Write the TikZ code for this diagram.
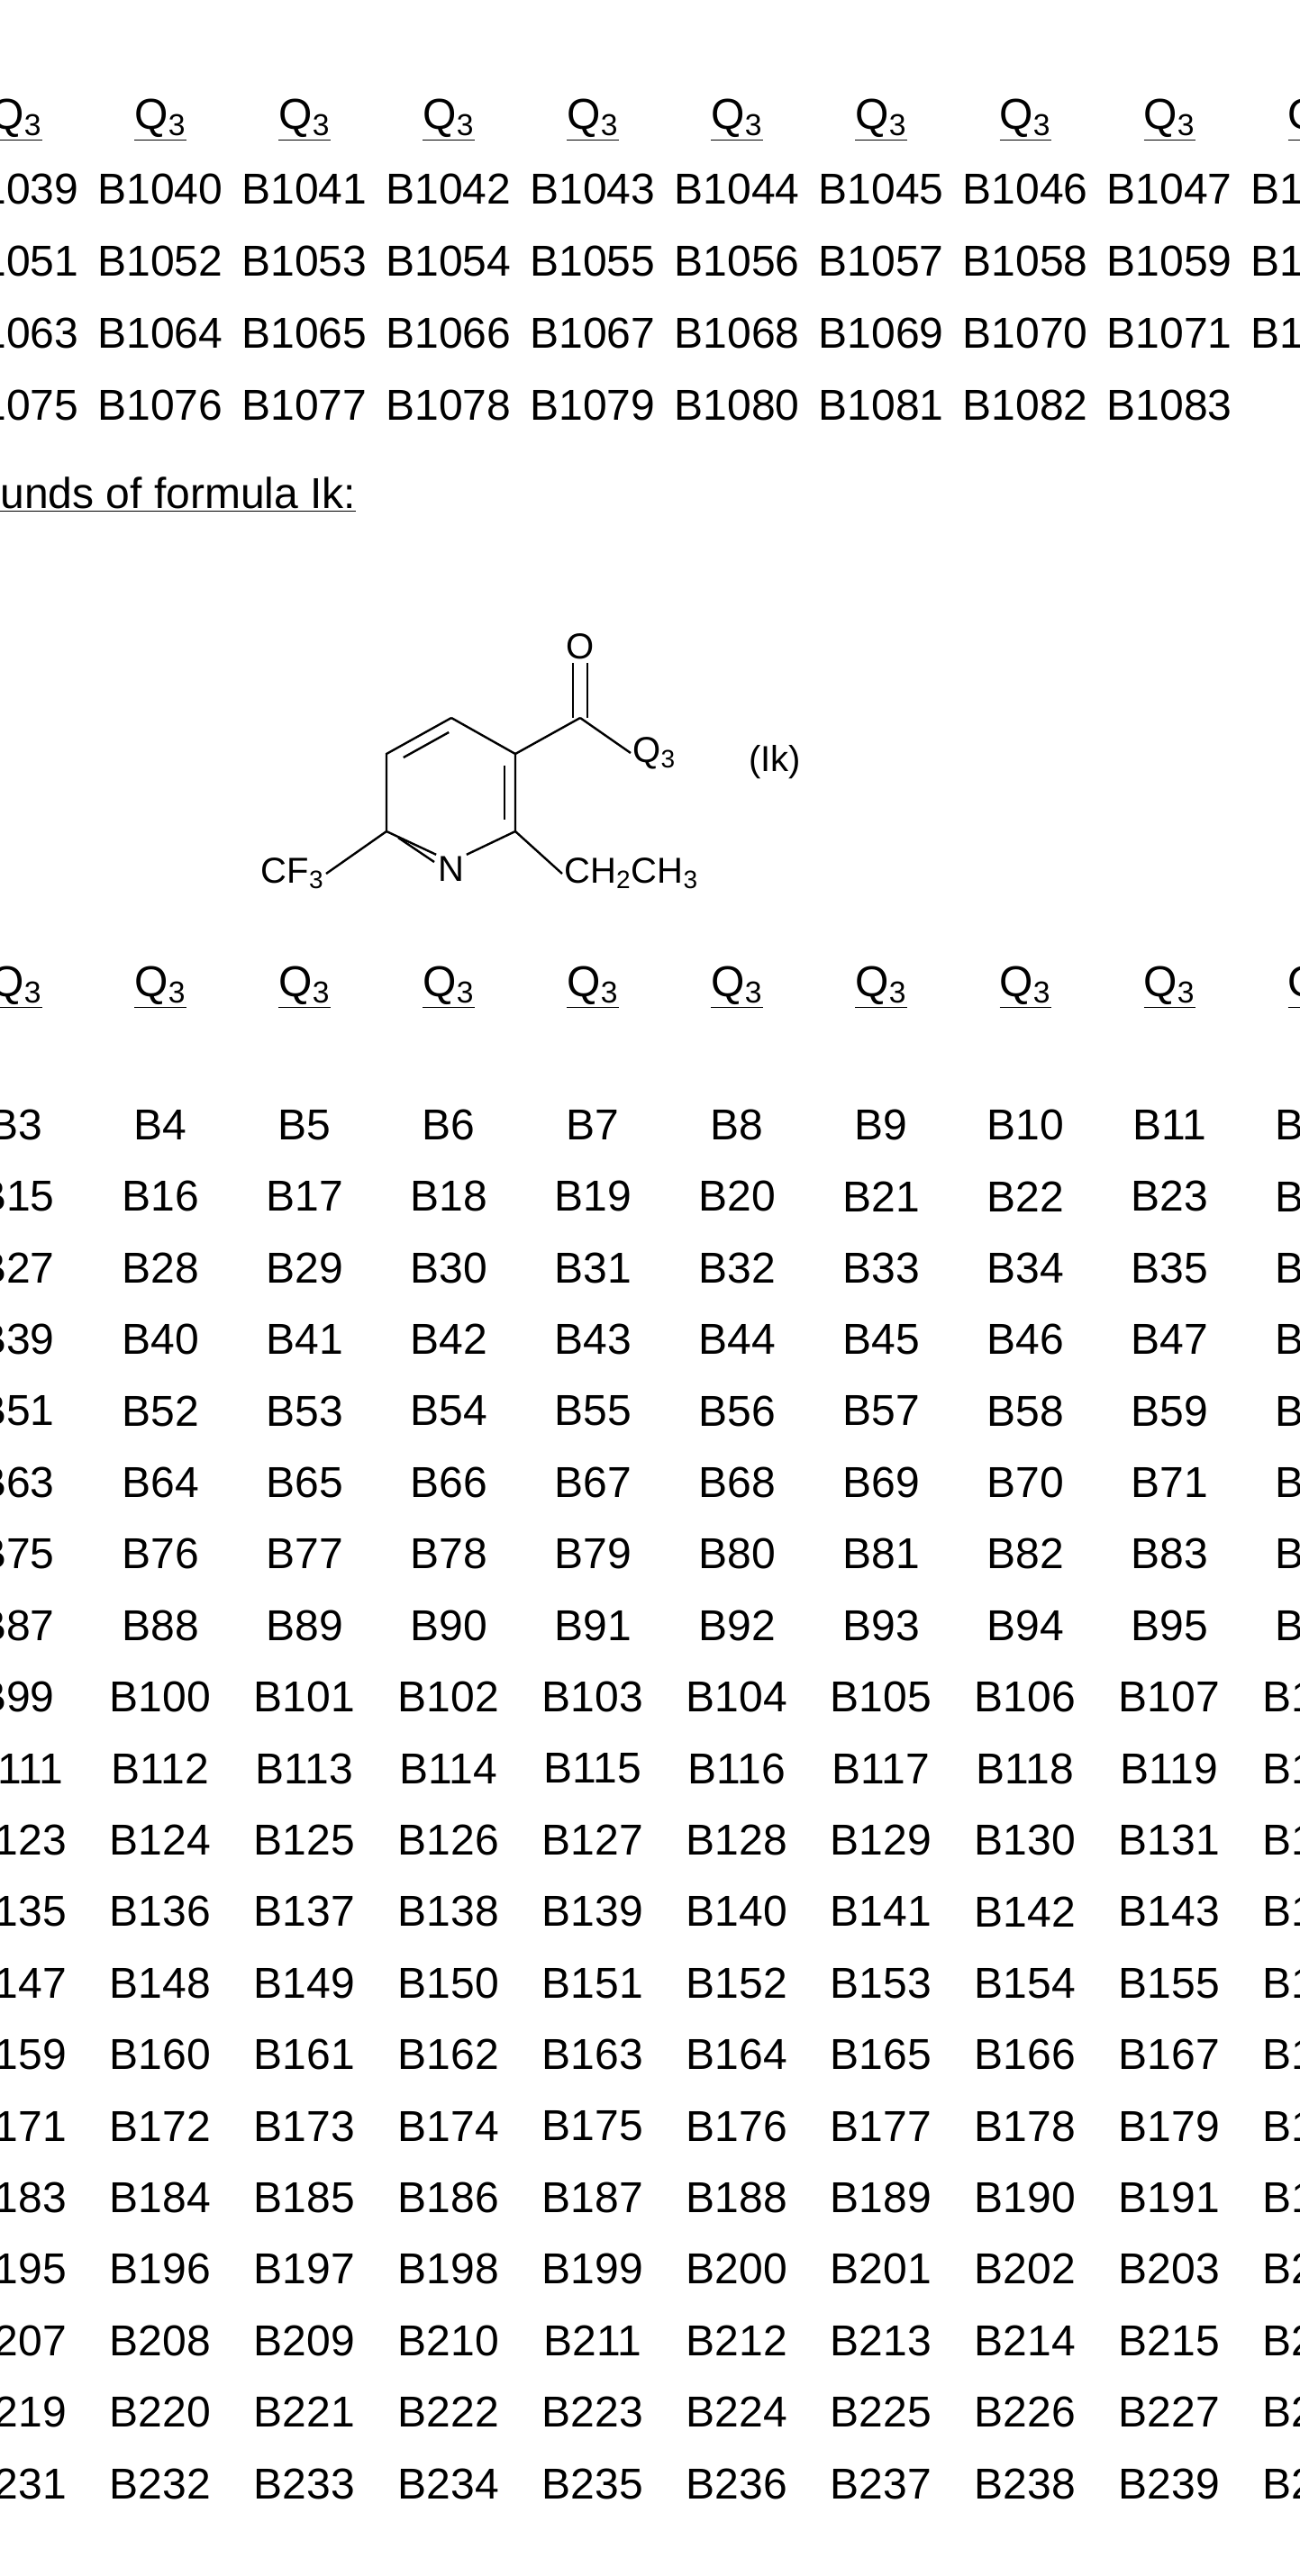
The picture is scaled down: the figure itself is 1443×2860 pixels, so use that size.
\documentclass[tikz,border=0pt]{standalone}
\usepackage{fontspec}
\setmainfont{Liberation Sans}
\usetikzlibrary{calc}
\begin{document}
\begin{tikzpicture}[x=0.5pt,y=-0.5pt,
  cell/.style={inner sep=0pt,anchor=center,font=\fontsize{24}{28}\selectfont},
  hdr/.style={inner sep=0pt,anchor=center,font=\fontsize{24}{28}\selectfont},
  atom/.style={inner sep=1pt,font=\fontsize{20}{23}\selectfont},
  bond/.style={line width=1.2pt}]
\useasboundingbox (0,0) rectangle (1443,2860);
\clip (0,0) rectangle (1443,2860);
\fill[white] (0,0) rectangle (1443,2860);
% top block
\foreach \i in {0,...,9}{
  \node[hdr] (ha\i) at (18+160*\i,133) {\underline{Q\textsubscript{3}}};
  \node[hdr] (hb\i) at (18+160*\i,1096) {\underline{Q\textsubscript{3}}};
}
\foreach \r in {0,...,3}{
  \foreach \i in {0,...,9}{
    \pgfmathtruncatemacro{\v}{1039+12*\r+\i}
    \ifnum\v<1084
      \node[cell] (t\r c\i) at (18+160*\i,210+80*\r) {B\v};
    \fi
  }
}
\node[inner sep=0pt,anchor=west,font=\fontsize{24}{28}\selectfont] (title) at (0,549) {\underline{unds of formula Ik:}};
% structure
\coordinate (a1) at (501,797);
\coordinate (a2) at (572,837);
\coordinate (a3) at (572,923);
\node[atom] (N) at (501,965) {N};
\coordinate (a5) at (429,923);
\coordinate (a6) at (429,837);
\coordinate (cc) at (644,797);
\node[atom] (O) at (644,718) {O};
\node[atom,anchor=west] (Q) at (700,836) {Q\textsubscript{3}};
\node[atom] (Ik) at (860,846) {(Ik)};
\node[atom,anchor=east] (CF) at (362,970) {CF\textsubscript{3}};
\node[atom,anchor=west] (Et) at (624,970) {CH\textsubscript{2}CH\textsubscript{3}};
\draw[bond] (a1)--(a2)--(a3)--(N.north east);
\draw[bond] (N.north west)--(a5)--(a6)--(a1);
\draw[bond] ($(a6)!0.15!(a1)+(8,10)$)--($(a6)!0.85!(a1)+(8,10)$);
\draw[bond] (560,850)--(560,910);
\draw[bond] (442,930)--(482,957);
\draw[bond] (a2)--(cc);
\draw[bond] (cc)--(Q.west);
\draw[bond] (636,797)--(636,736);
\draw[bond] (652,797)--(652,736);
\draw[bond] (a5)--(CF.east);
\draw[bond] (a3)--(Et.west);
% lower table
\foreach \r in {0,...,19}{
  \foreach \i in {0,...,9}{
    \pgfmathtruncatemacro{\v}{3+12*\r+\i}
    \node[cell] (d\r c\i) at (18+160*\i,1249+79.4*\r) {B\v};
  }
}
\end{tikzpicture}
\end{document}
